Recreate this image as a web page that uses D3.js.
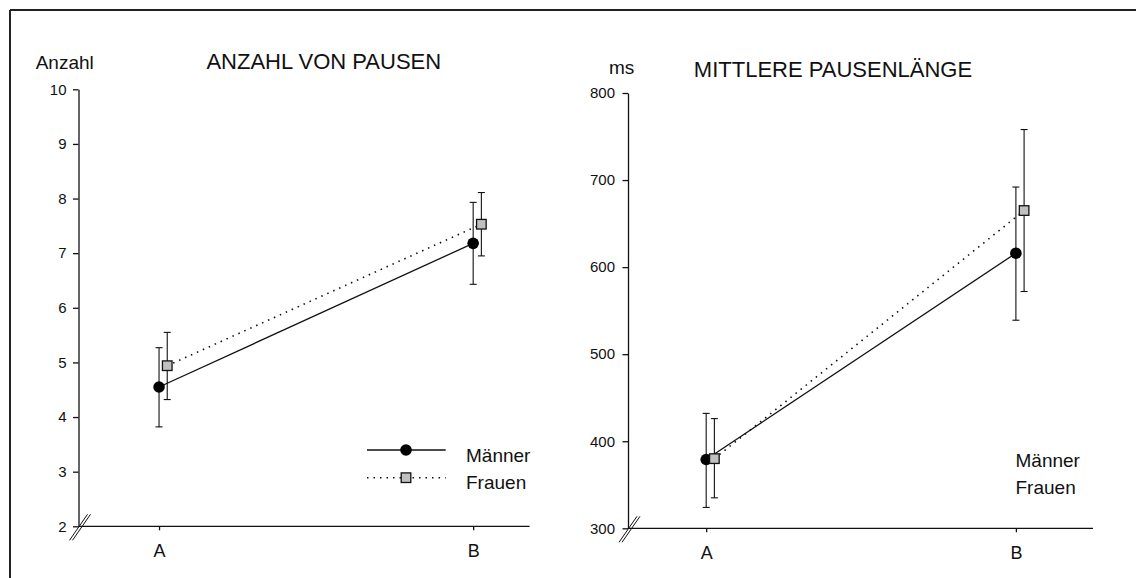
<!DOCTYPE html>
<html>
<head>
<meta charset="utf-8">
<script src="https://cdn.jsdelivr.net/npm/d3@7"></script>
<style>
  html, body { margin: 0; padding: 0; background: #fff; }
  svg { display: block; font-family: "Liberation Sans", Arial, sans-serif; }
</style>
</head>
<body>
<svg id="chart" width="1136" height="578"></svg>
<script>
// Conditions on the x axis
const categories = ["A", "B"];
const seriesNames = ["Männer", "Frauen"];

// Anzahl von Pausen: means and error-bar limits
const anzahlMaenner      = [4.55, 7.18];
const anzahlMaennerLow   = [3.82, 6.43];
const anzahlMaennerHigh  = [5.27, 7.93];
const anzahlFrauen       = [4.94, 7.53];
const anzahlFrauenLow    = [4.32, 6.95];
const anzahlFrauenHigh   = [5.55, 8.11];
const anzahlTicks = [2, 3, 4, 5, 6, 7, 8, 9, 10];

// Mittlere Pausenlänge (ms): means and error-bar limits
const laengeMaenner      = [379, 616];
const laengeMaennerLow   = [324, 539];
const laengeMaennerHigh  = [432, 692];
const laengeFrauen       = [380, 665];
const laengeFrauenLow    = [335, 572];
const laengeFrauenHigh   = [426, 758];
const laengeTicks = [300, 400, 500, 600, 700, 800];

const svg = d3.select("#chart");

// outer frame: top and left edges
svg.append("line").attr("x1", 10).attr("x2", 1136).attr("y1", 10).attr("y2", 10)
  .attr("stroke", "#222").attr("stroke-width", 2);
svg.append("line").attr("x1", 10).attr("x2", 10).attr("y1", 10).attr("y2", 578)
  .attr("stroke", "#222").attr("stroke-width", 2);

function panel(cfg) {
  const g = svg.append("g");
  const y = d3.scaleLinear().domain(cfg.yDomain).range([cfg.y0, cfg.y1]);
  const x = d3.scalePoint().domain(categories)
    .range([cfg.x0, cfg.x1]).padding(cfg.padding).align(cfg.align);

  // y axis
  const ya = g.append("g").attr("transform", `translate(${cfg.x0},0)`)
    .call(d3.axisLeft(y).tickValues(cfg.ticks).tickSize(5.5).tickSizeOuter(0)
      .tickPadding(cfg.tickPad).tickFormat(d3.format("d")));
  ya.selectAll("path, line").attr("stroke", "#111").attr("stroke-width", 1.3);
  ya.selectAll("text").attr("font-size", 15).attr("fill", "#111")
    .attr("font-family", "Liberation Sans, Arial, sans-serif");

  // x axis
  const xa = g.append("g").attr("transform", `translate(0,${cfg.y0})`)
    .call(d3.axisBottom(x).tickSize(4).tickSizeOuter(0));
  xa.select(".domain").attr("d", `M${cfg.x0},0H${cfg.x1}`);
  xa.selectAll("path, line").attr("stroke", "#111").attr("stroke-width", 1.3);
  xa.selectAll("text").attr("font-size", 18).attr("fill", "#111")
    .attr("font-family", "Liberation Sans, Arial, sans-serif")
    .attr("y", 31).attr("dy", 0);

  // axis break marks at the origin
  [0, 3].forEach(dx => {
    g.append("line")
      .attr("x1", cfg.x0 - 9 + dx).attr("y1", y(cfg.yDomain[0]) + 14)
      .attr("x2", cfg.x0 + 9 + dx).attr("y2", y(cfg.yDomain[0]) - 12)
      .attr("stroke", "#111").attr("stroke-width", 1);
  });

  // unit label and title
  g.append("text").attr("x", cfg.unitX).attr("y", cfg.unitY)
    .attr("font-size", 19).attr("fill", "#111").text(cfg.unit);
  g.append("text").attr("x", cfg.titleX).attr("y", cfg.titleY)
    .attr("text-anchor", "middle").attr("font-size", 22).attr("fill", "#111")
    .text(cfg.title);

  const series = [
    { mean: cfg.m, low: cfg.mLow, high: cfg.mHigh, shift: 0, dash: null, shape: "circle" },
    { mean: cfg.f, low: cfg.fLow, high: cfg.fHigh, shift: 8.2, dash: "1.5,5", shape: "square" }
  ];

  // error bars
  series.forEach(s => {
    categories.forEach((c, i) => {
      const cx = x(c) + s.shift;
      g.append("line").attr("x1", cx).attr("x2", cx)
        .attr("y1", y(s.low[i])).attr("y2", y(s.high[i]))
        .attr("stroke", "#111").attr("stroke-width", 1.1);
      [s.low[i], s.high[i]].forEach(v => {
        g.append("line").attr("x1", cx - 3.5).attr("x2", cx + 3.5)
          .attr("y1", y(v)).attr("y2", y(v))
          .attr("stroke", "#111").attr("stroke-width", 1.1);
      });
    });
  });

  // connecting lines
  const line = d3.line();
  series.slice().reverse().forEach(s => {
    const pts = categories.map((c, i) => [x(c) + s.shift, y(s.mean[i])]);
    g.append("path").attr("d", line(pts)).attr("fill", "none")
      .attr("stroke", "#111").attr("stroke-width", s.dash ? 1.6 : 1.3)
      .attr("stroke-dasharray", s.dash);
  });

  // markers
  series.forEach(s => {
    categories.forEach((c, i) => {
      const cx = x(c) + s.shift, cy = y(s.mean[i]);
      if (s.shape === "circle") {
        g.append("circle").attr("cx", cx).attr("cy", cy).attr("r", 5.8).attr("fill", "#000");
      } else {
        g.append("rect").attr("x", cx - 4.8).attr("y", cy - 4.8)
          .attr("width", 9.6).attr("height", 9.6)
          .attr("fill", "#c0c0c0").attr("stroke", "#111").attr("stroke-width", 1.3);
      }
    });
  });
  return g;
}

const left = panel({
  yDomain: [2, 10], y0: 526.3, y1: 89.3, x0: 78.5, x1: 529.6,
  padding: 0.218, align: 0.588, tickPad: 6.5, ticks: anzahlTicks,
  unit: "Anzahl", unitX: 35.7, unitY: 68.5,
  title: "ANZAHL VON PAUSEN", titleX: 323.8, titleY: 69.3,
  m: anzahlMaenner, mLow: anzahlMaennerLow, mHigh: anzahlMaennerHigh,
  f: anzahlFrauen, fLow: anzahlFrauenLow, fHigh: anzahlFrauenHigh
});

const right = panel({
  yDomain: [300, 800], y0: 528.3, y1: 93, x0: 628, x1: 1093,
  padding: 0.2507, align: 0.5035, tickPad: 7.5, ticks: laengeTicks,
  unit: "ms", unitX: 609, unitY: 74,
  title: "MITTLERE PAUSENLÄNGE", titleX: 833, titleY: 77.3,
  m: laengeMaenner, mLow: laengeMaennerLow, mHigh: laengeMaennerHigh,
  f: laengeFrauen, fLow: laengeFrauenLow, fHigh: laengeFrauenHigh
});

// legend with symbols (left panel)
const legendRows = [
  { name: seriesNames[0], ly: 450, ty: 461.5, dash: null, shape: "circle" },
  { name: seriesNames[1], ly: 477.7, ty: 488.5, dash: "1.5,5", shape: "square" }
];
legendRows.forEach(r => {
  left.append("line").attr("x1", 367).attr("x2", 445.7).attr("y1", r.ly).attr("y2", r.ly)
    .attr("stroke", "#111").attr("stroke-width", r.dash ? 1.6 : 1.3)
    .attr("stroke-dasharray", r.dash);
  if (r.shape === "circle") {
    left.append("circle").attr("cx", 406).attr("cy", r.ly).attr("r", 5.8).attr("fill", "#000");
  } else {
    left.append("rect").attr("x", 406 - 4.8).attr("y", r.ly - 4.8).attr("width", 9.6).attr("height", 9.6)
      .attr("fill", "#c0c0c0").attr("stroke", "#111").attr("stroke-width", 1.3);
  }
  left.append("text").attr("x", 466).attr("y", r.ty).attr("font-size", 19)
    .attr("fill", "#111").text(r.name);
});

// legend text (right panel)
[[seriesNames[0], 467.3], [seriesNames[1], 494]].forEach(([name, ty]) => {
  right.append("text").attr("x", 1015.5).attr("y", ty).attr("font-size", 19)
    .attr("fill", "#111").text(name);
});
</script>
</body>
</html>
